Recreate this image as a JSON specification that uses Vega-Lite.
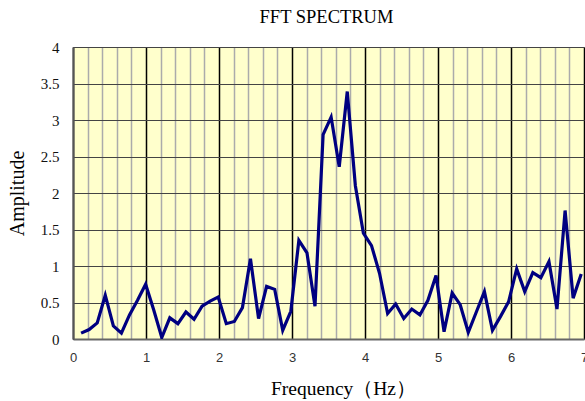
{
  "$schema": "https://vega.github.io/schema/vega-lite/v6.json",
  "width": 511,
  "height": 292,
  "autosize": {"type": "none"},
  "padding": {"left": 73, "top": 47, "right": 1, "bottom": 62},
  "background": "white",
  "title": {"text": "FFT SPECTRUM", "font": "Liberation Serif", "fontSize": 18.5, "fontWeight": "normal", "color": "black", "offset": 14, "dx": -2},
  "config": {
    "view": {"fill": "#FFFFCC", "stroke": "#999999", "strokeWidth": 1}
  },
  "data": {"values": [
    {"f": 0.111, "a": 0.08}, {"f": 0.221, "a": 0.13}, {"f": 0.332, "a": 0.22}, {"f": 0.442, "a": 0.60},
    {"f": 0.553, "a": 0.18}, {"f": 0.663, "a": 0.08}, {"f": 0.774, "a": 0.33}, {"f": 0.884, "a": 0.53},
    {"f": 0.995, "a": 0.75}, {"f": 1.105, "a": 0.40}, {"f": 1.216, "a": 0.02}, {"f": 1.326, "a": 0.29},
    {"f": 1.437, "a": 0.21}, {"f": 1.547, "a": 0.37}, {"f": 1.658, "a": 0.27}, {"f": 1.768, "a": 0.45},
    {"f": 1.879, "a": 0.52}, {"f": 1.989, "a": 0.575}, {"f": 2.100, "a": 0.21}, {"f": 2.210, "a": 0.24},
    {"f": 2.321, "a": 0.43}, {"f": 2.431, "a": 1.10}, {"f": 2.542, "a": 0.28}, {"f": 2.652, "a": 0.72},
    {"f": 2.763, "a": 0.68}, {"f": 2.873, "a": 0.12}, {"f": 2.984, "a": 0.38}, {"f": 3.094, "a": 1.35},
    {"f": 3.205, "a": 1.18}, {"f": 3.315, "a": 0.45}, {"f": 3.426, "a": 2.80}, {"f": 3.536, "a": 3.04},
    {"f": 3.647, "a": 2.36}, {"f": 3.757, "a": 3.39}, {"f": 3.868, "a": 2.10}, {"f": 3.978, "a": 1.45},
    {"f": 4.089, "a": 1.28}, {"f": 4.199, "a": 0.90}, {"f": 4.310, "a": 0.35}, {"f": 4.420, "a": 0.48},
    {"f": 4.531, "a": 0.28}, {"f": 4.641, "a": 0.41}, {"f": 4.752, "a": 0.33}, {"f": 4.862, "a": 0.53},
    {"f": 4.973, "a": 0.87}, {"f": 5.083, "a": 0.10}, {"f": 5.194, "a": 0.63}, {"f": 5.304, "a": 0.47},
    {"f": 5.415, "a": 0.09}, {"f": 5.525, "a": 0.37}, {"f": 5.636, "a": 0.65}, {"f": 5.746, "a": 0.12},
    {"f": 5.857, "a": 0.31}, {"f": 5.967, "a": 0.51}, {"f": 6.078, "a": 0.96}, {"f": 6.188, "a": 0.65},
    {"f": 6.299, "a": 0.91}, {"f": 6.409, "a": 0.84}, {"f": 6.520, "a": 1.06}, {"f": 6.630, "a": 0.41},
    {"f": 6.741, "a": 1.76}, {"f": 6.851, "a": 0.56}, {"f": 6.962, "a": 0.89}
  ]},
  "mark": {"type": "line", "color": "#000080", "strokeWidth": 3.2, "strokeJoin": "miter", "clip": true},
  "encoding": {
    "x": {
      "field": "f", "type": "quantitative",
      "scale": {"domain": [0, 7], "nice": false, "zero": false},
      "axis": {
        "title": "Frequency（Hz）",
        "titleFont": "Liberation Serif", "titleFontSize": 19.5, "titleFontWeight": "normal", "titleColor": "black", "titlePadding": 15,
        "titleX": 270,
        "values": [0,0.2,0.4,0.6,0.8,1,1.2,1.4,1.6,1.8,2,2.2,2.4,2.6,2.8,3,3.2,3.4,3.6,3.8,4,4.2,4.4,4.6,4.8,5,5.2,5.4,5.6,5.8,6,6.2,6.4,6.6,6.8,7],
        "labelExpr": "abs(datum.value - round(datum.value)) < 0.001 ? '' + round(datum.value) : ''",
        "labelFont": "Liberation Sans", "labelFontSize": 13, "labelColor": "#333333", "labelPadding": 12,
        "labelOverlap": false, "labelFlush": false,
        "ticks": false,
        "domain": true, "domainColor": "#666666", "domainWidth": 2,
        "grid": true,
        "gridColor": {"condition": {"test": "abs(datum.value - round(datum.value)) < 0.001", "value": "#000000"}, "value": "#ababab"},
        "gridWidth": 1.5,
        "gridOpacity": 1
      }
    },
    "y": {
      "field": "a", "type": "quantitative",
      "scale": {"domain": [0, 4], "nice": false},
      "axis": {
        "title": "Amplitude",
        "titleFont": "Liberation Serif", "titleFontSize": 20, "titleFontWeight": "normal", "titleColor": "black", "titlePadding": 13,
        "values": [0, 0.5, 1, 1.5, 2, 2.5, 3, 3.5, 4],
        "labelExpr": "'' + datum.value",
        "labelFont": "Liberation Serif", "labelFontSize": 15, "labelColor": "#111111", "labelPadding": 14,
        "ticks": false,
        "domain": true, "domainColor": "#555555", "domainWidth": 2,
        "grid": true, "gridColor": "#444444", "gridWidth": 1.2, "gridOpacity": 1
      }
    }
  }
}
